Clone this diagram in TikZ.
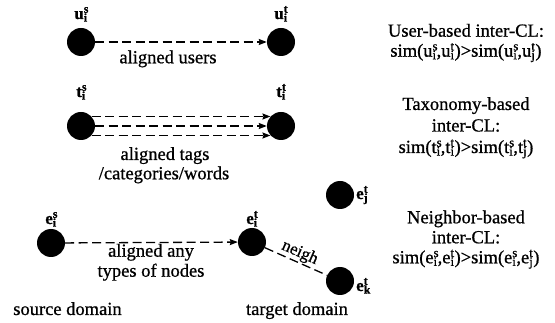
\documentclass[tikz,border=0pt]{standalone}
\usepackage{fontspec}
\setmainfont{Liberation Serif}[FakeBold=0.8]
\usetikzlibrary{arrows.meta}
\newcommand{\lbl}[3]{\textbf{#1\rlap{\textsuperscript{#3}}\textsubscript{#2}}}
\newcommand{\sml}[3]{#1\rlap{\textsuperscript{#3}}\textsubscript{#2}}
\begin{document}
\begin{tikzpicture}[x=1pt,y=-1pt,
  dot/.style={circle,fill=black,minimum size=28pt,inner sep=0pt},
  al/.style={line width=1.3pt,dash pattern=on 9pt off 4.5pt,-{Stealth[length=8pt,width=6pt,inset=1pt]}},
  nb/.style={line width=1.3pt,dash pattern=on 9pt off 4.5pt},
  txt/.style={font=\fontsize{18.5}{20}\selectfont,inner sep=0pt,anchor=base},
  lab/.style={font=\fontsize{17}{20}\selectfont,inner sep=0pt,anchor=base}]
\useasboundingbox (0,0) rectangle (555,323);
% row 1
\node[dot] (us) at (81,42) {};
\node[dot] (ut) at (281,42) {};
\node[lab] (lus) at (81,19) {\lbl{u}{i}{s}};
\node[lab] (lut) at (281,19) {\lbl{u}{i}{t}};
\draw[al] (us) -- (ut);
\node[txt] (t1) at (168,63.3) {aligned users};
% row 2
\node[dot] (ts) at (81,126) {};
\node[dot] (tt) at (281,126) {};
\node[lab] (lts) at (81,97) {\lbl{t}{i}{s}};
\node[lab] (ltt) at (281,97) {\lbl{t}{i}{t}};
\draw[al] (ts.42) -- (tt.138);
\draw[al] (ts.east) -- (tt.west);
\draw[al] (ts.-42) -- (tt.-138);
\node[txt] (t2a) at (165,160) {aligned tags};
\node[txt] (t2b) at (164,179.3) {/categories/words};
% row 3
\node[dot] (es) at (51,243) {};
\node[dot] (et) at (252,242) {};
\node[dot] (ej) at (340,195) {};
\node[dot] (ek) at (340,281) {};
\node[lab] (les) at (51,224) {\lbl{e}{i}{s}};
\node[lab] (let) at (252,224) {\lbl{e}{i}{t}};
\node[lab,anchor=base west] (lej) at (356,199) {\lbl{e}{j}{t}};
\node[lab,anchor=base west] (lek) at (356,291) {\lbl{e}{k}{t}};
\draw[al] (es) -- (et);
\draw[nb] (et) -- node[sloped,above=1pt,font=\fontsize{17}{20}\selectfont,inner sep=0pt] (ng) {neigh} (ek);
\node[txt] (t3a) at (151,256.7) {aligned any};
\node[txt] (t3b) at (151,276.7) {types of nodes};
\node[txt] (sd) at (67.5,315) {source domain};
\node[txt] (td) at (297,315) {target domain};
% right column
\node[txt] (r1a) at (466,36.7) {User-based inter-CL:};
\node[txt] (r1b) at (466,56.7) {sim(\sml{u}{i}{s},\sml{u}{i}{t})>sim(\sml{u}{i}{s},\sml{u}{j}{t})};
\node[txt] (r2a) at (466,110) {Taxonomy-based};
\node[txt] (r2b) at (466,131.5) {inter-CL:};
\node[txt] (r2c) at (466,153) {sim(\sml{t}{i}{s},\sml{t}{i}{t})>sim(\sml{t}{i}{s},\sml{t}{j}{t})};
\node[txt] (r3a) at (466,223.3) {Neighbor-based};
\node[txt] (r3b) at (466,243.3) {inter-CL:};
\node[txt] (r3c) at (466,263.3) {sim(\sml{e}{i}{s},\sml{e}{i}{t})>sim(\sml{e}{i}{s},\sml{e}{j}{t})};
\end{tikzpicture}
\end{document}
